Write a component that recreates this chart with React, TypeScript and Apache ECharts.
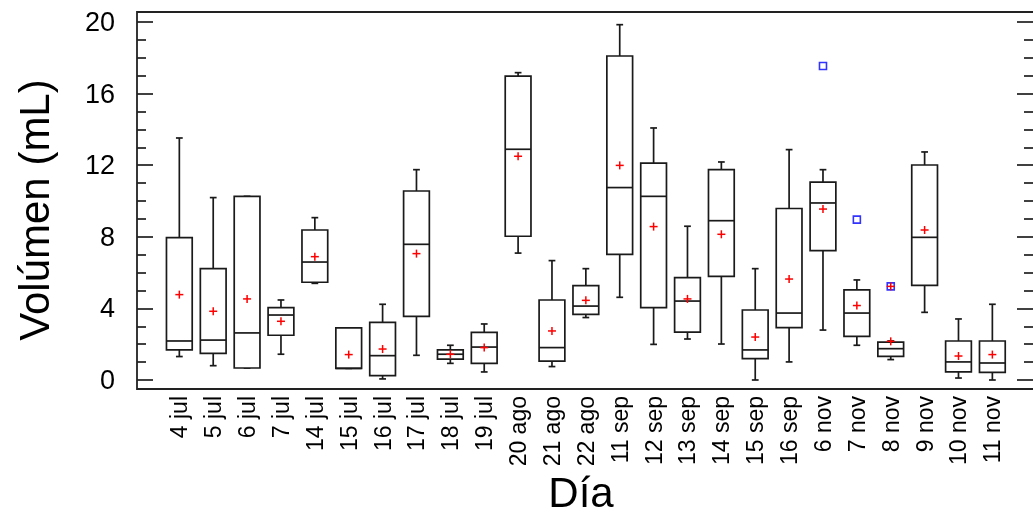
import React, { useEffect, useRef } from "react";
import * as echarts from "echarts";

const categories = [
  "4 jul", "5 jul", "6 jul", "7 jul", "14 jul", "15 jul", "16 jul", "17 jul", "18 jul", "19 jul",
  "20 ago", "21 ago", "22 ago", "11 sep", "12 sep", "13 sep", "14 sep", "15 sep", "16 sep",
  "6 nov", "7 nov", "8 nov", "9 nov", "10 nov", "11 nov",
];
const whiskerLow = [1.31, 0.8, 0.67, 1.44, 5.4, 0.65, 0.06, 1.38, 0.93, 0.45, 7.09, 0.75, 3.49, 4.62, 1.99, 2.29, 2.01, 0.0, 1.01, 2.79, 1.94, 1.14, 3.78, 0.11, 0.0];
const q1 = [1.68, 1.49, 0.67, 2.5, 5.46, 0.65, 0.24, 3.56, 1.17, 0.93, 8.03, 1.06, 3.67, 7.02, 4.04, 2.68, 5.79, 1.19, 2.93, 7.23, 2.44, 1.32, 5.29, 0.45, 0.43];
const median = [2.18, 2.23, 2.63, 3.63, 6.59, 0.65, 1.36, 7.58, 1.44, 1.84, 12.89, 1.81, 4.13, 10.75, 10.26, 4.41, 8.9, 1.68, 3.74, 9.89, 3.74, 1.75, 7.97, 1.01, 0.95];
const q3 = [7.95, 6.22, 10.26, 4.04, 8.38, 2.91, 3.22, 10.56, 1.68, 2.66, 16.98, 4.47, 5.27, 18.1, 12.12, 5.72, 11.75, 3.91, 9.58, 11.06, 5.03, 2.12, 12.01, 2.18, 2.18];
const whiskerHigh = [13.52, 10.19, 10.26, 4.47, 9.07, 2.91, 4.23, 11.75, 1.94, 3.13, 17.17, 6.67, 6.22, 19.85, 14.08, 8.59, 12.18, 6.22, 12.87, 11.75, 5.59, 2.18, 12.74, 3.41, 4.23];
const means = [4.77, 3.84, 4.53, 3.28, 6.89, 1.42, 1.73, 7.06, 1.44, 1.81, 12.5, 2.74, 4.45, 11.99, 8.57, 4.53, 8.14, 2.4, 5.64, 9.55, 4.16, 2.16, 8.38, 1.34, 1.42];
const outlierCats = ["6 nov", "7 nov", "8 nov"];
const outlierValues = [17.54, 8.96, 5.23];
const extraMarkCats = ["8 nov"];
const extraMarkValues = [5.23];
const yTicks = { min: 0, max: 20, interval: 4 };

const FONT = "'Liberation Sans', Arial, Helvetica, sans-serif";

export default function App() {
  const ref = useRef<HTMLDivElement>(null);
  useEffect(() => {
    if (!ref.current) return;
    const chart = echarts.init(ref.current, null, { renderer: "svg" });

    const boxData = categories.map((_, i) => [i, whiskerLow[i], q1[i], median[i], q3[i], whiskerHigh[i]]);
    const meanData = categories.map((_, i) => [i, means[i]]);
    extraMarkCats.forEach((c, k) => meanData.push([categories.indexOf(c), extraMarkValues[k]]));
    const outlierData = outlierCats.map((c, k) => [categories.indexOf(c), outlierValues[k]]);

    const lineStyle = { stroke: "#1a1a1a", lineWidth: 1.7, fill: "none" };

    const yBase = {
      type: "value",
      min: yTicks.min,
      max: yTicks.max,
      interval: yTicks.interval,
      axisLine: { show: false },
      splitLine: { show: false },
      axisTick: { show: true, inside: true, length: 16, lineStyle: { color: "#111", width: 1.6 } },
      minorTick: { show: true, splitNumber: 4, length: 9, lineStyle: { color: "#111", width: 1.6 } },
    };

    chart.setOption({
      animation: false,
      grid: [
        { left: 137, top: 22, width: 896, height: 358 },
        { left: 162.4, top: 22, width: 846.9, height: 358 },
      ],
      xAxis: [
        { type: "value", gridIndex: 0, show: false, min: 0, max: 1 },
        {
          type: "category",
          gridIndex: 1,
          data: categories,
          axisLine: { show: false },
          axisTick: { show: false },
          axisLabel: { interval: 0, rotate: 90, fontSize: 23, margin: 16, color: "#000", fontFamily: FONT },
        },
      ],
      yAxis: [
        {
          ...yBase,
          gridIndex: 0,
          position: "left",
          axisLabel: { show: true, fontSize: 27, margin: 22, color: "#000", fontFamily: FONT },
        },
        { ...yBase, gridIndex: 0, position: "right", axisLabel: { show: false } },
        { type: "value", gridIndex: 1, min: yTicks.min, max: yTicks.max, show: false },
      ],
      graphic: [
        {
          type: "rect",
          shape: { x: 137, y: 12, width: 898, height: 377 },
          style: { fill: "none", stroke: "#222", lineWidth: 1.8 },
          z: 10,
          silent: true,
        },
        {
          type: "text",
          x: 34,
          y: 210,
          rotation: Math.PI / 2,
          style: { text: "Volúmen (mL)", fontSize: 42, lineHeight: 42, fontFamily: FONT, fill: "#000", align: "center", verticalAlign: "middle" },
        },
        {
          type: "text",
          x: 581,
          y: 492,
          style: { text: "Día", fontSize: 42, lineHeight: 40, fontFamily: FONT, fill: "#000", align: "center", verticalAlign: "middle" },
        },
      ],
      series: [
        {
          type: "custom",
          name: "Caja",
          xAxisIndex: 1,
          yAxisIndex: 2,
          data: boxData,
          encode: { x: 0, y: [1, 2, 3, 4, 5] },
          renderItem: (params: any, api: any) => {
            const idx = api.value(0);
            const band = api.size([1, 0])[0];
            const bw = band * 0.76;
            const cw = band * 0.2;
            const lo = api.coord([idx, api.value(1)]);
            const b1 = api.coord([idx, api.value(2)]);
            const md = api.coord([idx, api.value(3)]);
            const b3 = api.coord([idx, api.value(4)]);
            const hi = api.coord([idx, api.value(5)]);
            const cx = lo[0];
            const line = (x1: number, y1: number, x2: number, y2: number) => ({
              type: "line",
              shape: { x1, y1, x2, y2 },
              style: lineStyle,
            });
            return {
              type: "group",
              children: [
                line(cx, b3[1], cx, hi[1]),
                line(cx - cw / 2, hi[1], cx + cw / 2, hi[1]),
                line(cx, b1[1], cx, lo[1]),
                line(cx - cw / 2, lo[1], cx + cw / 2, lo[1]),
                {
                  type: "rect",
                  shape: { x: cx - bw / 2, y: b3[1], width: bw, height: b1[1] - b3[1] },
                  style: { ...lineStyle, fill: "#fff" },
                },
                line(cx - bw / 2, md[1], cx + bw / 2, md[1]),
              ],
            };
          },
          z: 2,
        },
        {
          type: "scatter",
          name: "Atípicos",
          xAxisIndex: 1,
          yAxisIndex: 2,
          data: outlierData,
          symbol: "rect",
          symbolSize: 7,
          itemStyle: { color: "rgba(0,0,0,0)", borderColor: "#0000ff", borderWidth: 1.6 },
          z: 3,
        },
        {
          type: "custom",
          name: "Media",
          xAxisIndex: 1,
          yAxisIndex: 2,
          data: meanData,
          encode: { x: 0, y: 1 },
          renderItem: (params: any, api: any) => {
            const p = api.coord([api.value(0), api.value(1)]);
            const h = 4;
            const st = { stroke: "#ff0000", lineWidth: 1.5 };
            return {
              type: "group",
              children: [
                { type: "line", shape: { x1: p[0] - h, y1: p[1], x2: p[0] + h, y2: p[1] }, style: st },
                { type: "line", shape: { x1: p[0], y1: p[1] - h, x2: p[0], y2: p[1] + h }, style: st },
              ],
            };
          },
          z: 4,
        },
      ],
    });
    return () => chart.dispose();
  }, []);
  return <div ref={ref} style={{ position: "fixed", left: 0, top: 0, width: 1033, height: 514 }} />;
}
